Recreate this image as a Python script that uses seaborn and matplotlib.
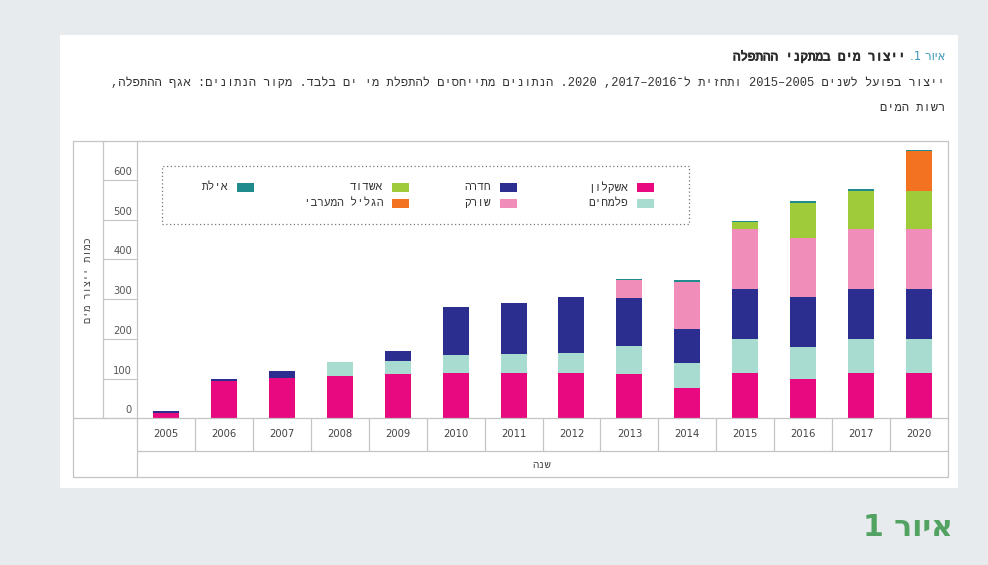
import re
import numpy as np
import pandas as pd
import matplotlib
matplotlib.use("Agg")
import matplotlib.pyplot as plt
import matplotlib.patheffects as pe
from matplotlib.patches import Rectangle
from matplotlib.lines import Line2D
from matplotlib.transforms import ScaledTranslation
import seaborn as sns

# ---------------- data ----------------
years = ["2005", "2006", "2007", "2008", "2009", "2010", "2011",
         "2012", "2013", "2014", "2015", "2016", "2017", "2020"]
ashkelon = [14, 95, 101, 107, 111, 115, 115, 115, 111, 76, 113, 100, 113, 113]
palmachim = [0, 0, 0, 34, 33, 44, 46, 49, 71, 64, 87, 79, 87, 87]
hadera = [5, 4, 18, 0, 25, 122, 129, 142, 122, 84, 126, 127, 126, 126]
sorek = [0, 0, 0, 0, 0, 0, 0, 0, 44, 118, 150, 148, 150, 150]
ashdod = [0, 0, 0, 0, 0, 0, 0, 0, 0, 0, 17, 88, 96, 96]
galil = [0, 0, 0, 0, 0, 0, 0, 0, 0, 0, 0, 0, 0, 100]
eilat = [0, 0, 0, 0, 0, 0, 0, 0, 2, 5, 5, 5, 5, 4]

series_names = ["אשקלון", "פלמחים", "חדרה", "שורק", "אשדוד", "הגליל המערבי", "אילת"]
series_values = [ashkelon, palmachim, hadera, sorek, ashdod, galil, eilat]
series_colors = ["#e8087f", "#a8dcd1", "#2b2e8e", "#f08db9", "#9fcb3b", "#f27222", "#1f8b8c"]

y_ticks = [0, 100, 200, 300, 400, 500, 600]

title_num = "איור 1."
title_main = "ייצור מים במתקני ההתפלה"
subtitle1 = ("ייצור בפועל לשנים 2005–2015 ותחזית ל־2016–2017, 2020. "
             "הנתונים מתייחסים להתפלת מי ים בלבד. מקור הנתונים: אגף ההתפלה,")
subtitle2 = "רשות המים"
y_label = "כמות ייצור מים"
x_label = "שנה"
corner_label = "איור 1"


def rtl(s):
    """Convert logical Hebrew text to visual order (digits kept LTR)."""
    r = s[::-1]
    return re.sub(r"\d+", lambda m: m.group(0)[::-1], r)


# ---------------- figure ----------------
W, H = 988, 565
sns.set_theme(style="white")
plt.rcParams["font.family"] = ["DejaVu Sans"]
MONO = ["Liberation Mono", "DejaVu Sans Mono", "DejaVu Sans"]
SANS = ["DejaVu Sans"]
fig = plt.figure(figsize=(W / 100, H / 100), dpi=100)
fig.patch.set_facecolor("#e8ebee")


def fx(x):
    return x / W


def fy(y):
    return 1 - y / H


# white panel
fig.add_artist(Rectangle((fx(60), fy(488)), fx(958) - fx(60), fy(35) - fy(488),
                         transform=fig.transFigure, facecolor="white",
                         edgecolor="none", zorder=0))

# plot axes
L, R, T, B = 137, 948, 141, 418.3
ax = fig.add_axes([fx(L), fy(B), fx(R) - fx(L), fy(T) - fy(B)])
ax.set_facecolor("white")
ax.patch.set_alpha(0)

# stacked bars via cumulative layers (top layer first)
cum = np.cumsum(np.array(series_values, dtype=float), axis=0)
for k in range(len(series_names) - 1, -1, -1):
    df = pd.DataFrame({"year": years, "value": cum[k]})
    sns.barplot(data=df, x="year", y="value", order=years, color=series_colors[k],
                saturation=1, width=0.45, errorbar=None, linewidth=0,
                edgecolor="none", ax=ax)

px_per_unit = (418.3 - 180) / 600
ax.set_xlim(-0.5, len(years) - 0.5)
ax.set_ylim(0, (B - T) / px_per_unit)
ax.set_xlabel("")
ax.set_ylabel("")
for sp in ax.spines.values():
    sp.set_visible(False)

ax.set_xticks(range(len(years)))
ax.set_xticklabels(years)
ax.tick_params(axis="x", length=0, pad=8, labelsize=7.2, labelcolor="#444444")
ax.set_yticks(y_ticks)
ax.set_yticklabels([])
ax.tick_params(axis="y", direction="out", length=34 * 0.72, width=0.8,
               color="#c4c4c4", left=True)

# y tick labels, placed above their tick line (table style)
off = ScaledTranslation(-5 / 100, 3 / 100, fig.dpi_scale_trans)
for v in y_ticks:
    ax.text(0, v, str(v), transform=ax.get_yaxis_transform() + off,
            ha="right", va="bottom", fontsize=7.2, color="#555555")

# table frame lines
lc, lw = "#c4c4c4", 0.9


def hline(y, x0, x1):
    fig.add_artist(Line2D([fx(x0), fx(x1)], [fy(y), fy(y)], transform=fig.transFigure,
                          color=lc, lw=lw))


def vline(x, y0, y1):
    fig.add_artist(Line2D([fx(x), fx(x)], [fy(y0), fy(y1)], transform=fig.transFigure,
                          color=lc, lw=lw))


hline(141, 73, 948)
hline(477, 73, 948)
hline(B, 73, 948)
hline(451, 137, 948)
vline(73, 141, 477)
vline(948, 141, 477)
vline(103, 141, B)
vline(137, 141, 477)

# year separators in the year row
ybot = (B - 451) / (B - T)
for i in range(len(years) - 1):
    ax.plot([i + 0.5, i + 0.5], [0, ybot], transform=ax.get_xaxis_transform(),
            color=lc, lw=lw, clip_on=False)

# axis titles
fig.text(fx(542), fy(465), rtl(x_label), ha="center", va="center",
         fontsize=7.5, color="#444444", family=MONO)
fig.text(fx(88), fy(280), rtl(y_label), ha="center", va="center", rotation=90,
         fontsize=7.4, color="#444444", family=MONO)

# legend (manual, right-to-left layout)
fig.add_artist(Rectangle((fx(162), fy(224)), fx(689) - fx(162), fy(166) - fy(224),
                         transform=fig.transFigure, facecolor="none",
                         edgecolor="#777777", lw=0.9, linestyle=(0, (1, 2))))
leg_cols = [637, 500, 392, 237]
leg_rows = [187, 203]
for idx, name in enumerate(series_names):
    c, r = idx // 2, idx % 2
    sx, sy = leg_cols[c], leg_rows[r]
    fig.add_artist(Rectangle((fx(sx), fy(sy + 4.5)), 17 / W, 9 / H,
                             transform=fig.transFigure, facecolor=series_colors[idx],
                             edgecolor="none"))
    fig.text(fx(sx - 9), fy(sy), rtl(name), ha="right", va="center",
             fontsize=8, color="#333333", family=MONO)

# title and subtitle
t1 = fig.text(fx(945), fy(57), rtl(title_num), ha="right", va="center",
              fontsize=8.5, color="#3d95b8", family=SANS)
fig.canvas.draw()
bb = t1.get_window_extent(renderer=fig.canvas.get_renderer())
fig.text((bb.x0 - 4) / W, fy(57), rtl(title_main), ha="right", va="center",
         fontsize=9, color="#2a2a2a", family=MONO,
         path_effects=[pe.withStroke(linewidth=0.6, foreground="#2a2a2a")])
fig.text(fx(945), fy(83), rtl(subtitle1), ha="right", va="center",
         fontsize=8.65, color="#333333", family=MONO)
fig.text(fx(945), fy(108), rtl(subtitle2), ha="right", va="center",
         fontsize=8.65, color="#333333", family=MONO)

# corner label
fig.text(fx(953), fy(528), rtl(corner_label), ha="right", va="center",
         fontsize=21.5, fontweight="bold", color="#52a262", family=SANS)

fig.savefig("out.png", dpi=100, facecolor=fig.get_facecolor())
